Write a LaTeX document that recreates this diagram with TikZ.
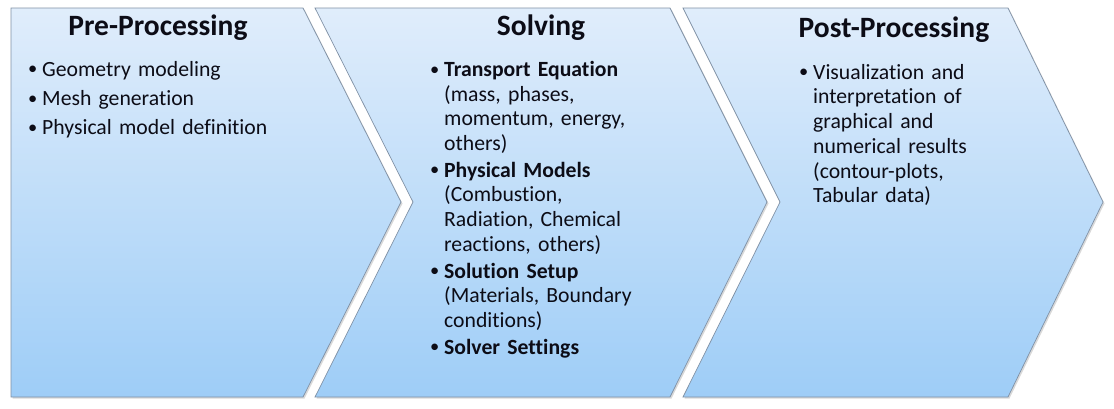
\documentclass[tikz,border=0pt]{standalone}
\usepackage{fontspec}
\setmainfont{Carlito}[Ligatures=NoCommon]
\usepackage{tikz}
\usetikzlibrary{shadows}
\setlength{\parskip}{0pt}
\definecolor{chevtop}{RGB}{224,237,251}
\definecolor{chevbot}{RGB}{158,205,247}
\definecolor{chevline}{RGB}{128,145,165}
\definecolor{txt}{RGB}{12,12,22}
\newcommand{\itm}[1]{\hangindent=14pt\hangafter=1\noindent\makebox[14pt][l]{\raisebox{0.06em}{\scalebox{0.85}{\textbullet}}}#1\par}
\newcommand{\gap}[1][2pt]{\vspace{#1}}

\begin{document}
\begin{tikzpicture}[x=1pt,y=-1pt,
  chev/.style={draw=chevline,line width=0.7pt,top color=chevtop,bottom color=chevbot,
    drop shadow={shadow xshift=1.5pt,shadow yshift=-1.5pt,opacity=0.3}},
  head/.style={font=\fontsize{29.5}{34}\selectfont\bfseries,text=txt},
  body/.style={font=\fontsize{21.7}{24.7}\selectfont,text=txt,
    anchor=north west,inner sep=0pt,align=left,text width=#1}]
\useasboundingbox (0,0) rectangle (1114,408);
\path[chev](11,8)--(303,8)--(401,202)--(303,397)--(11,397)--cycle;
\path[chev](315,8)--(670,8)--(767,202)--(670,397)--(315,397)--(413,202)--cycle;
\path[chev](683,8)--(1008,8)--(1103,202)--(1008,397)--(683,397)--(780,202)--cycle;
\node[head](pre) at (158,28){Pre-Processing};
\node[head](solv) at (541,28){Solving};
\node[head](post) at (894,30){Post-Processing};
\node[body=270pt](prelist) at (28,61){%
  \itm{Geometry modeling}\gap[4.5pt]
  \itm{Mesh generation}\gap[4.5pt]
  \itm{Physical model definition}};
\node[body=240pt](solvlist) at (430,61){%
  \itm{\textbf{Transport Equation}\newline(mass, phases,\newline momentum, energy,\newline others)}\gap
  \itm{\textbf{Physical Models}\newline(Combustion,\newline Radiation, Chemical\newline reactions, others)}\gap
  \itm{\textbf{Solution Setup}\newline(Materials, Boundary\newline conditions)}\gap
  \itm{\textbf{Solver Settings}}};
\node[body=230pt](postlist) at (799,64){%
  \itm{Visualization and\newline interpretation of\newline graphical and\newline numerical results\newline(contour-plots,\newline Tabular data)}};
\end{tikzpicture}
\end{document}
